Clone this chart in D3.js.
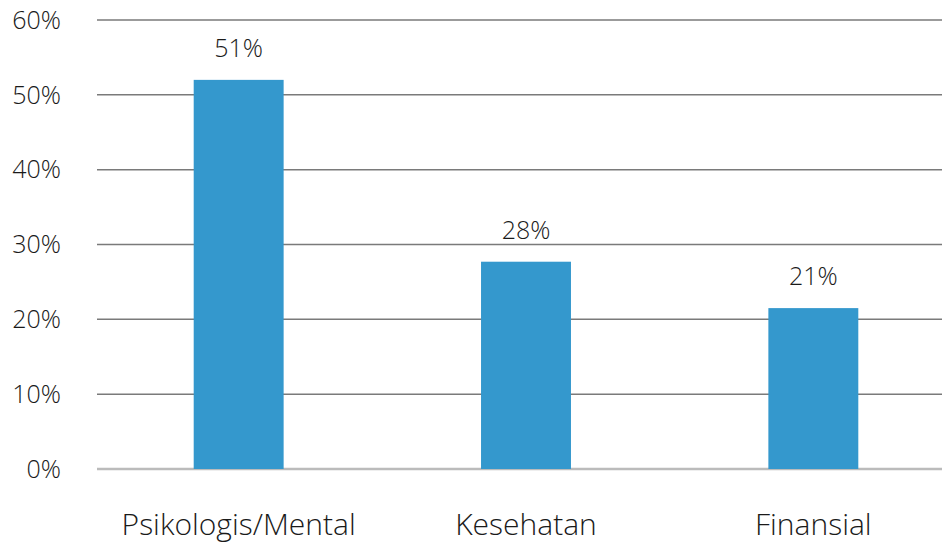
<!DOCTYPE html>
<html>
<head>
<meta charset="utf-8">
<script src="https://cdn.jsdelivr.net/npm/d3@7"></script>
<style>
  body { margin: 0; background: #fff; }
  svg { display: block; font-family: "Open Sans", sans-serif; font-weight: 300; }
</style>
</head>
<body>
<svg id="chart" width="942" height="544"></svg>
<script>
// data
const categories = ["Psikologis/Mental", "Kesehatan", "Finansial"];
const values = [52.0, 27.7, 21.5];
const valueLabels = ["51%", "28%", "21%"];
const yTicks = [0, 10, 20, 30, 40, 50, 60];

const svg = d3.select("#chart");
const width = +svg.attr("width");

const x = d3.scaleBand()
    .domain(categories)
    .range([95, 957])
    .paddingInner(0.687)
    .paddingOuter(0.3435);

const y = d3.scaleLinear()
    .domain([0, 60])
    .range([469, 20]);

// gridlines
svg.append("g")
  .selectAll("line")
  .data(yTicks)
  .join("line")
    .attr("x1", 97)
    .attr("x2", width)
    .attr("y1", d => y(d))
    .attr("y2", d => y(d))
    .attr("stroke", d => d === 0 ? "#bbbbbb" : "#7a7a7a")
    .attr("stroke-width", d => d === 0 ? 2.5 : 1.5);

// y tick labels
svg.append("g")
  .selectAll("text")
  .data(yTicks)
  .join("text")
    .attr("x", 61)
    .attr("y", d => y(d))
    .attr("dy", "0.35em")
    .attr("text-anchor", "end")
    .attr("font-size", 25)
    .attr("fill", "#1a1a1a")
    .text(d => d + "%");

// bars
svg.append("g")
  .selectAll("rect")
  .data(values)
  .join("rect")
    .attr("x", (d, i) => x(categories[i]))
    .attr("y", d => y(d))
    .attr("width", x.bandwidth())
    .attr("height", d => y(0) - y(d))
    .attr("fill", "#3498cd");

// value labels
svg.append("g")
  .selectAll("text")
  .data(values)
  .join("text")
    .attr("x", (d, i) => x(categories[i]) + x.bandwidth() / 2)
    .attr("y", d => y(d) - 23)
    .attr("text-anchor", "middle")
    .attr("font-size", 25)
    .attr("fill", "#1a1a1a")
    .text((d, i) => valueLabels[i]);

// category labels
svg.append("g")
  .selectAll("text")
  .data(categories)
  .join("text")
    .attr("x", d => x(d) + x.bandwidth() / 2)
    .attr("y", 535)
    .attr("text-anchor", "middle")
    .attr("font-size", 30)
    .attr("fill", "#1a1a1a")
    .text(d => d);
</script>
</body>
</html>
